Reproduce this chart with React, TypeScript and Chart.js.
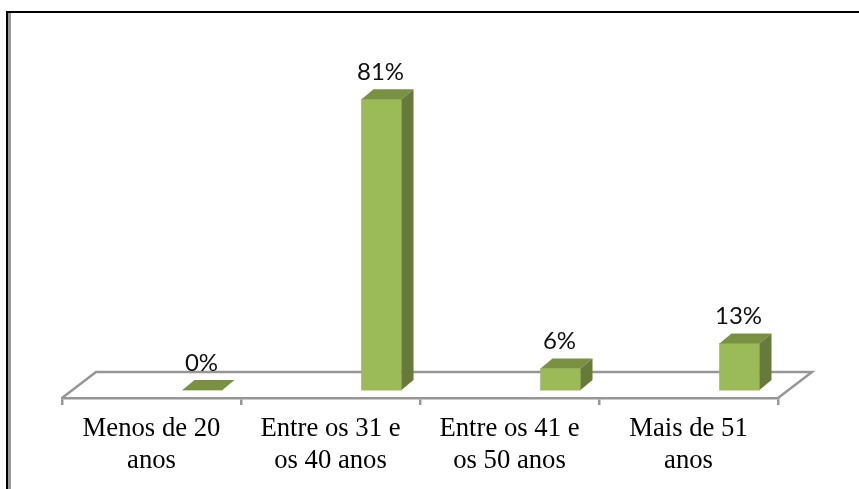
import React, { useEffect, useRef } from "react";
import { Chart, registerables } from "chart.js";

Chart.register(...registerables);

const categories = [
  ["Menos de 20", "anos"],
  ["Entre os 31 e", "os 40 anos"],
  ["Entre os 41 e", "os 50 anos"],
  ["Mais de 51", "anos"],
];
const percentages = [0, 81, 6, 13];

const FRONT = "#9BBB59";
const TOP = "#7A9144";
const SIDE = "#667A3B";
const AXIS = "#969696";
const BAR_SHIFT = 51;
const DEPTH_X = 12;
const DEPTH_Y = 10;
const FLOOR_X = 34;
const FLOOR_Y = 26;

const frame3d = {
  id: "frame3d",
  beforeDatasetsDraw(chart: any) {
    const { ctx, chartArea: a } = chart;
    ctx.save();
    // picture frame
    ctx.fillStyle = "#000";
    ctx.fillRect(6, 11, 853, 2);
    ctx.fillRect(6, 11, 2, 478);
    ctx.fillStyle = "#9A9A9A";
    ctx.fillRect(8, 13, 3, 476);
    // floor
    ctx.strokeStyle = AXIS;
    ctx.lineWidth = 2.5;
    ctx.beginPath();
    ctx.moveTo(a.left, a.bottom);
    ctx.lineTo(a.left + FLOOR_X, a.bottom - FLOOR_Y);
    ctx.lineTo(a.right + FLOOR_X, a.bottom - FLOOR_Y);
    ctx.lineTo(a.right, a.bottom);
    ctx.stroke();
    ctx.restore();
  },
  beforeDatasetDraw(chart: any) {
    chart.ctx.save();
    chart.ctx.translate(BAR_SHIFT, 0);
  },
  afterDatasetDraw(chart: any) {
    const { ctx } = chart;
    const meta = chart.getDatasetMeta(0);
    const base = chart.scales.y.getPixelForValue(0);
    meta.data.forEach((bar: any, i: number) => {
      const l = bar.x - bar.width / 2;
      const r = bar.x + bar.width / 2;
      const t = bar.y;
      ctx.fillStyle = TOP;
      ctx.beginPath();
      ctx.moveTo(l, t);
      ctx.lineTo(l + DEPTH_X, t - DEPTH_Y);
      ctx.lineTo(r + DEPTH_X, t - DEPTH_Y);
      ctx.lineTo(r, t);
      ctx.closePath();
      ctx.fill();
      ctx.fillStyle = SIDE;
      ctx.beginPath();
      ctx.moveTo(r, t);
      ctx.lineTo(r + DEPTH_X, t - DEPTH_Y);
      ctx.lineTo(r + DEPTH_X, base - DEPTH_Y);
      ctx.lineTo(r, base);
      ctx.closePath();
      ctx.fill();
      ctx.fillStyle = "#111";
      ctx.font = "24px Lato, 'Open Sans', sans-serif";
      ctx.textAlign = "center";
      ctx.textBaseline = "middle";
      ctx.fillText(`${percentages[i]}%`, bar.x - 1, t - 27);
    });
    ctx.restore();
  },
};

export default function App() {
  const ref = useRef<HTMLCanvasElement>(null);
  useEffect(() => {
    document.body.style.margin = "0";
    document.body.style.background = "#fff";
    const chart = new Chart(ref.current!, {
      type: "bar",
      data: {
        labels: categories,
        datasets: [
          {
            data: percentages,
            backgroundColor: FRONT,
            barThickness: 40,
          },
        ],
      },
      options: {
        animation: false,
        responsive: false,
        layout: { padding: { left: 62, right: 81, top: 31, bottom: 0 } },
        plugins: { legend: { display: false }, tooltip: { enabled: false } },
        scales: {
          y: { display: false, min: -2.2, max: 100 },
          x: {
            afterFit(scale: any) {
              scale.height = 91;
            },
            grid: {
              drawOnChartArea: false,
              drawTicks: true,
              tickLength: 7,
              color: AXIS,
              lineWidth: 2.5,
              offset: true,
            },
            border: { display: true, color: AXIS, width: 2.5 },
            ticks: {
              color: "#000",
              padding: 8,
              maxRotation: 0,
              autoSkip: false,
              font: { family: "'Liberation Serif', serif", size: 26.7, lineHeight: 1.2 },
            },
          },
        },
      },
      plugins: [frame3d],
    });
    return () => chart.destroy();
  }, []);
  return <canvas ref={ref} width={859} height={489} style={{ display: "block" }} />;
}
